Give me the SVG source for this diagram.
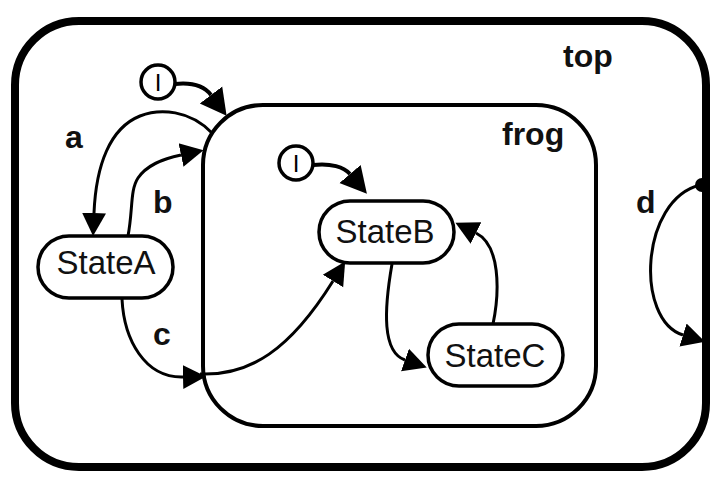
<svg xmlns="http://www.w3.org/2000/svg" width="713" height="479" viewBox="0 0 713 479">
  <style>
    .state { fill: #fff; stroke: #000; stroke-width: 3.5; }
    .label { font-family: "Liberation Sans", Arial, sans-serif; font-size: 33px; fill: #111; text-anchor: middle; }
    .name { font-family: "Liberation Sans", Arial, sans-serif; font-size: 32px; font-weight: bold; fill: #111; }
    .init { fill: #fff; stroke: #000; stroke-width: 3.5; }
    .initText { font-family: "Liberation Sans", Arial, sans-serif; font-size: 24px; fill: #000; text-anchor: middle; }
    .edge { fill: none; stroke: #000; stroke-width: 3; marker-end: url(#arrow); }
    .initEdge { fill: none; stroke: #000; stroke-width: 4; marker-end: url(#arrowBig); }
  </style>
  <defs>
    <marker id="arrow" markerUnits="userSpaceOnUse" markerWidth="24" markerHeight="26" refX="0" refY="13" orient="auto">
      <path d="M0,1 L23,13 L0,25 z" fill="#000"/>
    </marker>
    <marker id="arrowBig" markerUnits="userSpaceOnUse" markerWidth="28" markerHeight="30" refX="0" refY="15" orient="auto">
      <path d="M0,1 L26,15 L0,29 z" fill="#000"/>
    </marker>
  </defs>
  <rect width="713" height="479" fill="#fff"/>

  <!-- outer composite state -->
  <g id="top">
    <rect x="15" y="21" width="691" height="446" rx="64" ry="64" fill="none" stroke="#000" stroke-width="8"/>
    <text class="name" x="563" y="67">top</text>
  </g>

  <!-- nested composite state -->
  <g id="frog">
    <rect x="203" y="105" width="393" height="321" rx="60" ry="60" fill="none" stroke="#000" stroke-width="4"/>
    <text class="name" x="502" y="145">frog</text>
  </g>

  <g id="stateA">
    <rect class="state" x="38" y="236" width="135" height="62" rx="31" ry="31"/>
    <text class="label" x="106" y="274">StateA</text>
  </g>

  <g id="stateB">
    <rect class="state" x="319" y="201" width="135" height="62" rx="31" ry="31"/>
    <text class="label" x="385" y="243">StateB</text>
  </g>

  <g id="stateC">
    <rect class="state" x="428" y="324" width="135" height="62" rx="31" ry="31"/>
    <text class="label" x="495" y="367">StateC</text>
  </g>

  <g id="init-top">
    <circle class="init" cx="158" cy="82" r="17"/>
    <text class="initText" x="158" y="91">I</text>
  </g>

  <g id="init-frog">
    <circle class="init" cx="296" cy="163" r="17"/>
    <text class="initText" x="296" y="172">I</text>
  </g>

  <!-- transitions -->
  <g id="connectors">
    <path class="initEdge" d="M175,84 C194,82 205,87 211,95"/>
    <path class="initEdge" d="M313,165 C331,163 344,167 350,174"/>
    <path class="edge" d="M212,133 C190,110 160,108 140,116 C110,128 96,165 94,213"/>
    <path class="edge" d="M128,236 C133,210 130,190 138,178 C147,165 162,159 181,155"/>
    <path class="edge" d="M122,299 C124,340 145,378 183,377"/>
    <path class="edge" d="M200,374 C250,376 290,350 333,281"/>
    <path class="edge" d="M392,264 C384,310 382,352 405,360"/>
    <path class="edge" d="M493,324 C500,290 500,245 476,233"/>
    <circle cx="702" cy="185" r="7" fill="#000"/>
    <path class="edge" d="M700,185 C640,200 635,320 683,335"/>
    <text class="name" x="65" y="148">a</text>
    <text class="name" x="153" y="213">b</text>
    <text class="name" x="153" y="345">c</text>
    <text class="name" x="636" y="213">d</text>
  </g>
</svg>
